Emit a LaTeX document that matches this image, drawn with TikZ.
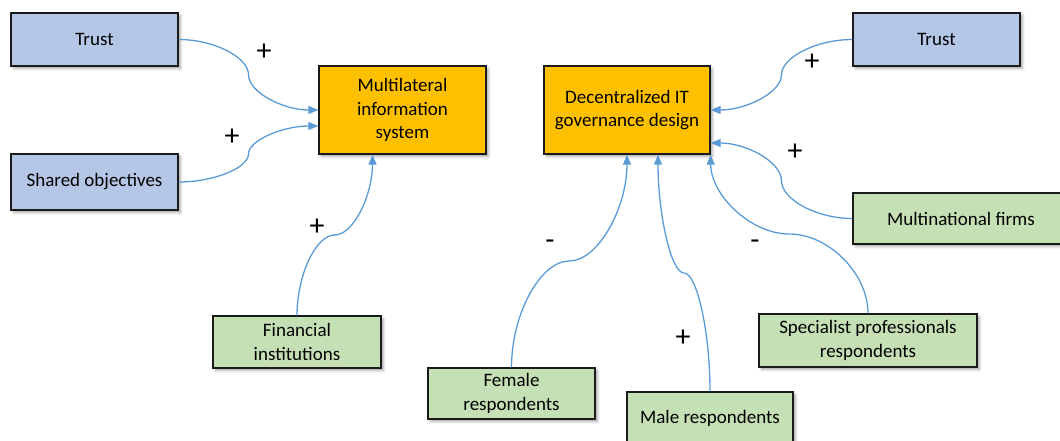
\documentclass[tikz,border=0pt]{standalone}
\usepackage{fontspec}
\setmainfont{Carlito}
\usetikzlibrary{arrows.meta,calc,shadows.blur}
\definecolor{boxblue}{HTML}{B4C7E7}
\definecolor{boxorange}{HTML}{FFC000}
\definecolor{boxgreen}{HTML}{C5E0B4}
\definecolor{linkblue}{HTML}{5B9BD5}
\definecolor{edgegray}{HTML}{1A1A1A}
\tikzset{
  box/.style={draw=edgegray, line width=1.4pt, align=center, inner sep=2pt,
    font=\fontsize{19}{23.5}\selectfont,
    blur shadow={shadow xshift=2.5pt, shadow yshift=-2.5pt,
      shadow blur radius=2.5pt, shadow opacity=35}},
  inputbox/.style={box, fill=boxblue},
  targetbox/.style={box, fill=boxorange},
  factorbox/.style={box, fill=boxgreen},
  link/.style={draw=linkblue, line width=1.3pt,
    -{Triangle[length=10pt,width=8pt]}},
  sign/.style={font=\fontsize{30}{30}\selectfont, inner sep=0pt},
  % S-shaped connector leaving and entering horizontally
  hcurve/.style={to path={let \p1=(\tikztostart), \p2=(\tikztotarget) in
    .. controls ({0.75*\x1+0.25*\x2},\y1) and ({0.5*\x1+0.5*\x2},{0.75*\y1+0.25*\y2})
    .. ({0.5*\x1+0.5*\x2},{0.5*\y1+0.5*\y2})
    .. controls ({0.5*\x1+0.5*\x2},{0.25*\y1+0.75*\y2}) and ({0.25*\x1+0.75*\x2},\y2)
    .. (\p2)}},
  % S-shaped connector leaving and entering vertically
  vcurve/.style={to path={let \p1=(\tikztostart), \p2=(\tikztotarget) in
    .. controls (\x1,{0.75*\y1+0.25*\y2}) and ({0.75*\x1+0.25*\x2},{0.5*\y1+0.5*\y2})
    .. ({0.5*\x1+0.5*\x2},{0.5*\y1+0.5*\y2})
    .. controls ({0.25*\x1+0.75*\x2},{0.5*\y1+0.5*\y2}) and (\x2,{0.25*\y1+0.75*\y2})
    .. (\p2)}}
}
\begin{document}
\begin{tikzpicture}[x=1pt, y=-1pt]
\useasboundingbox (0,0) rectangle (1060,441);
\clip (0,0) rectangle (1060,441);

% left cluster
\node[inputbox, minimum width=167pt, minimum height=53pt] (trustL) at (94.5,39.5) {Trust};
\node[inputbox, minimum width=167pt, minimum height=56pt] (shared) at (94.5,182) {Shared objectives};
\node[targetbox, minimum width=167pt, minimum height=88pt] (mis) at (402.5,110) {Multilateral\\information\\system};
\node[factorbox, minimum width=168pt, minimum height=52pt] (fin) at (297,342) {Financial\\institutions};

% right cluster
\node[targetbox, minimum width=166pt, minimum height=88pt] (dgd) at (627,110) {Decentralized IT\\governance design};
\node[inputbox, minimum width=167pt, minimum height=53pt] (trustR) at (936.5,39.5) {Trust};
\node[factorbox, minimum width=216pt, minimum height=51pt] (mnf) at (961,218.5) {Multinational firms};
\node[factorbox, minimum width=218pt, minimum height=53pt] (spec) at (868,340.5) {Specialist professionals\\respondents};
\node[factorbox, minimum width=167pt, minimum height=51pt] (fem) at (511.5,393.5) {Female\\respondents};
\node[factorbox, minimum width=166pt, minimum height=52pt] (male) at (710,418) {Male respondents};

% connectors
\draw[link] (trustL.east) to[hcurve] (mis.west);
\draw[link] (shared.east) to[hcurve] ($(mis.west)+(0,16)$);
\draw[link] (fin.north) to[vcurve] ($(mis.south)+(-30,0)$);
\draw[link] (trustR.west) to[hcurve] (dgd.east);
\draw[link] (mnf.west) to[hcurve] ($(dgd.east)+(0,33)$);
\draw[link] (fem.north) to[vcurve] (dgd.south);
\draw[link] (male.north) to[vcurve] ($(dgd.south)+(31,0)$);
\draw[link] (spec.north) to[vcurve] (dgd.south east);

% signs
\node[sign] (s1) at (264,52) {+};
\node[sign] (s2) at (232,137) {+};
\node[sign] (s3) at (317,227) {+};
\node[sign] (s4) at (550,245) {-};
\node[sign] (s5) at (683,338) {+};
\node[sign] (s6) at (755,245) {-};
\node[sign] (s7) at (812,62) {+};
\node[sign] (s8) at (795,152) {+};
\end{tikzpicture}
\end{document}
